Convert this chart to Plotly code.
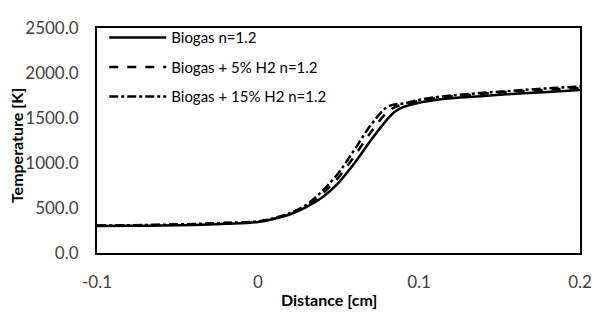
import plotly.graph_objects as go

distance = [-0.1, -0.08, -0.06, -0.04, -0.02, 0, 0.01, 0.02, 0.03, 0.04, 0.05, 0.06,
            0.07, 0.08, 0.085, 0.09, 0.1, 0.11, 0.12, 0.14, 0.16, 0.18, 0.2]
biogas = [300, 302, 305, 312, 325, 345, 380, 430, 510, 620, 780, 1000,
          1250, 1480, 1570, 1620, 1670, 1700, 1720, 1745, 1770, 1790, 1810]
biogas_5h2 = [305, 308, 312, 320, 332, 350, 385, 440, 525, 660, 840, 1080,
              1340, 1560, 1620, 1650, 1690, 1720, 1740, 1770, 1795, 1815, 1835]
biogas_15h2 = [305, 308, 314, 322, 335, 352, 388, 445, 535, 690, 890, 1150,
               1420, 1620, 1650, 1660, 1700, 1730, 1750, 1780, 1805, 1830, 1850]

names = ["Biogas n=1.2", "Biogas + 5% H2 n=1.2", "Biogas + 15% H2 n=1.2"]
series = [biogas, biogas_5h2, biogas_15h2]
dashes = ["solid", "dash", "dashdot"]

fig = go.Figure()
for i, (n, s, d) in enumerate(zip(names, series, dashes)):
    fig.add_trace(go.Scatter(x=distance, y=s, mode="lines", name=n, legendgroup=f"g{i}",
                             line=dict(color="black", width=2.5, dash=d, shape="spline")))

font_family = "Lato, 'Open Sans', sans-serif"
fig.update_layout(
    width=597, height=308,
    margin=dict(l=89, r=25, t=9, b=63),
    paper_bgcolor="white", plot_bgcolor="white",
    font=dict(family=font_family, size=17, color="#404040"),
    showlegend=True,
    legend=dict(x=0.015, y=1.03, xanchor="left", yanchor="top", itemwidth=57,
                bgcolor="rgba(0,0,0,0)", font=dict(size=15, color="black"),
                tracegroupgap=7),
    xaxis=dict(range=[-0.1, 0.2], tickvals=[-0.1, 0, 0.1, 0.2],
               ticktext=["-0.1", "0", "0.1", "0.2"],
               showgrid=False, zeroline=False, showline=True, mirror=True,
               linecolor="black", linewidth=2, ticks="outside", ticklen=13,
               tickcolor="rgba(0,0,0,0)"),
    yaxis=dict(range=[0, 2500], tickvals=[0, 500, 1000, 1500, 2000, 2500],
               tickformat=".1f",
               showgrid=False, zeroline=False, showline=True, mirror=True,
               linecolor="black", linewidth=2, ticks="outside", ticklen=13,
               tickcolor="rgba(0,0,0,0)"),
    annotations=[
        dict(text="<b>Distance [cm]</b>", xref="paper", yref="paper", x=0.48, y=-0.208,
             xanchor="center", yanchor="middle", showarrow=False,
             font=dict(size=16, color="black")),
        dict(text="<b>Temperature [K]</b>", xref="paper", yref="paper", x=-0.168, y=0.479,
             xanchor="center", yanchor="middle", showarrow=False, textangle=-90,
             font=dict(size=16, color="black")),
    ],
)

fig.write_html("out.html")
